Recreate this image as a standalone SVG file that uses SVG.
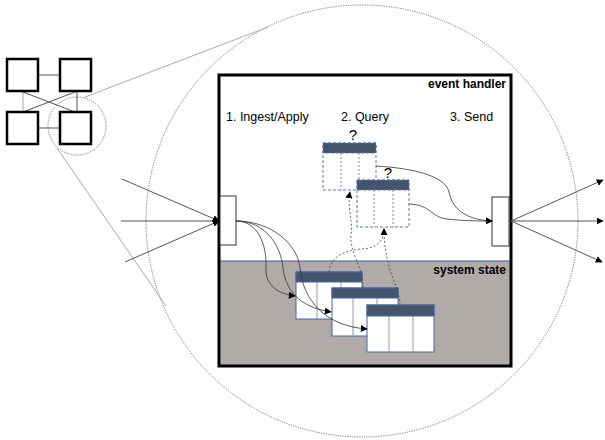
<svg xmlns="http://www.w3.org/2000/svg" width="605" height="440" viewBox="0 0 605 440">
<defs>
<marker id="ah" viewBox="0 0 10 10" refX="9" refY="5" markerWidth="7" markerHeight="7" markerUnits="userSpaceOnUse" orient="auto"><path d="M0,0 L10,5 L0,10 z" fill="#000"/></marker>
<style>
.sq{fill:#fff;stroke:#000;stroke-width:2.5}
.gl{stroke:#555;stroke-width:1;fill:none}
.lt{stroke:#aaa;stroke-width:1;fill:none}
.dot{fill:none;stroke:#777;stroke-width:1;stroke-dasharray:1.2 1.2}
.lbl{font-family:"Liberation Sans",Arial,sans-serif;font-size:12.5px;fill:#000}
.b{font-family:"Liberation Sans",Arial,sans-serif;font-size:12px;font-weight:bold;fill:#000}
.q{font-family:"Liberation Sans",Arial,sans-serif;font-size:15px;fill:#000;text-anchor:middle}
.hdr{fill:#44546a}
.tb{fill:#fff;stroke:#4a67a0;stroke-width:1}
.tbd{fill:#fff;stroke:#5a77a8;stroke-width:1;stroke-dasharray:3 2}
.col{stroke:#999;stroke-width:1}
.cold{stroke:#888;stroke-width:1;stroke-dasharray:2 2}
.con{fill:none;stroke:#333;stroke-width:0.8}
.cond{fill:none;stroke:#444;stroke-width:0.8;stroke-dasharray:2 2}
.port{fill:#fff;stroke:#333;stroke-width:1}
</style>
</defs>
<!-- zoom lines and circles -->
<g id="zoom">
<circle cx="362" cy="221" r="216" class="dot"/>
<circle cx="77" cy="126" r="29" class="dot"/>
<line x1="85" y1="97" x2="268" y2="27" class="lt"/>
<line x1="57" y1="148" x2="166" y2="306" class="lt"/>
</g>
<!-- node graph -->
<g id="graph">
<line x1="38" y1="75" x2="60" y2="75" class="gl"/>
<line x1="38" y1="128" x2="60" y2="128" class="gl"/>
<line x1="23" y1="91" x2="23" y2="112" class="lt"/>
<line x1="77" y1="91" x2="77" y2="112" class="gl"/>
<line x1="23" y1="92" x2="75" y2="112" class="gl"/>
<line x1="75" y1="92" x2="23" y2="112" class="gl"/>
<rect id="n1" x="7" y="59" width="31" height="32" class="sq"/>
<rect id="n2" x="60" y="59" width="31" height="32" class="sq"/>
<rect id="n3" x="7" y="112" width="31" height="32" class="sq"/>
<rect id="n4" x="60" y="112" width="31" height="32" class="sq"/>
</g>
<!-- event handler box -->
<g id="handler">
<rect x="219" y="75" width="292" height="291" fill="#fff"/>
<rect x="219" y="261" width="292" height="105" fill="#b0aba9"/>
<line x1="219" y1="261" x2="511" y2="261" stroke="#3d5a99" stroke-width="1"/>
<rect x="219" y="75" width="292" height="291" fill="none" stroke="#000" stroke-width="3"/>
<text x="506" y="88" class="b" text-anchor="end">event handler</text>
<text x="506" y="274" class="b" text-anchor="end">system state</text>
<text x="226" y="121" class="lbl">1. Ingest/Apply</text>
<text x="341" y="121" class="lbl">2. Query</text>
<text x="450" y="121" class="lbl">3. Send</text>
</g>
<g id="inport"><rect x="220" y="196" width="16" height="49" class="port"/></g>
<g id="outport"><rect x="492" y="197" width="17" height="49" class="port"/></g>
<!-- system state tables -->
<g id="state1">
<rect x="296" y="272" width="66" height="47" class="tb"/>
<line x1="317" y1="282" x2="317" y2="319" class="col"/><line x1="341" y1="282" x2="341" y2="319" class="col"/>
<rect x="296" y="272" width="66" height="10" class="hdr" stroke="#4a67a0" stroke-width="1"/>
</g>
<g id="state2">
<rect x="332" y="288" width="66" height="48" class="tb"/>
<line x1="353" y1="298" x2="353" y2="336" class="col"/><line x1="377" y1="298" x2="377" y2="336" class="col"/>
<rect x="332" y="288" width="66" height="10" class="hdr" stroke="#4a67a0" stroke-width="1"/>
</g>
<g id="state3">
<rect x="367" y="305" width="67" height="47" class="tb"/>
<line x1="389" y1="316" x2="389" y2="352" class="col"/><line x1="413" y1="316" x2="413" y2="352" class="col"/>
<rect x="367" y="305" width="67" height="11" class="hdr" stroke="#4a67a0" stroke-width="1"/>
</g>
<!-- query tables -->
<g id="query1">
<rect x="323" y="143" width="53" height="47" class="tbd"/>
<line x1="341" y1="153" x2="341" y2="190" class="cold"/><line x1="359" y1="153" x2="359" y2="190" class="cold"/>
<rect x="323" y="143" width="53" height="10" class="hdr" stroke="#5a77a8" stroke-dasharray="3 2"/>
<text x="353" y="140" class="q">?</text>
</g>
<g id="query2">
<rect x="357" y="180" width="52" height="47" class="tbd"/>
<line x1="374" y1="190" x2="374" y2="227" class="cold"/><line x1="393" y1="190" x2="393" y2="227" class="cold"/>
<rect x="357" y="180" width="52" height="10" class="hdr" stroke="#5a77a8" stroke-dasharray="3 2"/>
<text x="388" y="178" class="q">?</text>
</g>
<!-- connectors -->
<g id="connectors">
<line x1="122" y1="179" x2="219" y2="221" class="gl" marker-end="url(#ah)"/>
<line x1="121" y1="221" x2="219" y2="221" class="gl" marker-end="url(#ah)"/>
<line x1="125" y1="262" x2="219" y2="221" class="gl" marker-end="url(#ah)"/>
<line x1="511" y1="221" x2="603" y2="180" class="gl" marker-end="url(#ah)"/>
<line x1="511" y1="221" x2="603" y2="221" class="gl" marker-end="url(#ah)"/>
<line x1="511" y1="221" x2="602" y2="262" class="gl" marker-end="url(#ah)"/>
<path d="M236,221 C258,221 267,245 266,268 C265,285 278,294 295,296" class="con" marker-end="url(#ah)"/>
<path d="M236,221 C265,221 281,245 283,268 C286,295 305,308 331,312" class="con" marker-end="url(#ah)"/>
<path d="M236,221 C272,221 298,245 300,268 C303,300 325,326 367,329" class="con" marker-end="url(#ah)"/>
<path d="M363,288 C363,265 349,252 351,235 C353,220 347,208 350,192" class="cond" marker-end="url(#ah)"/>
<path d="M329,272 C330,258 343,250 362,249 C378,248 384,240 384,229" class="cond" marker-end="url(#ah)"/>
<path d="M400,305 C400,290 390,275 388,262 C385,250 384,240 384,229" class="cond" marker-end="url(#ah)"/>
<path d="M376,166 C410,168 445,175 449,192 C453,212 470,220 492,221" class="con" marker-end="url(#ah)"/>
<path d="M409,204 C432,205 430,217 447,219 C465,221 478,221 492,221" class="con" marker-end="url(#ah)"/>
</g>
</svg>
